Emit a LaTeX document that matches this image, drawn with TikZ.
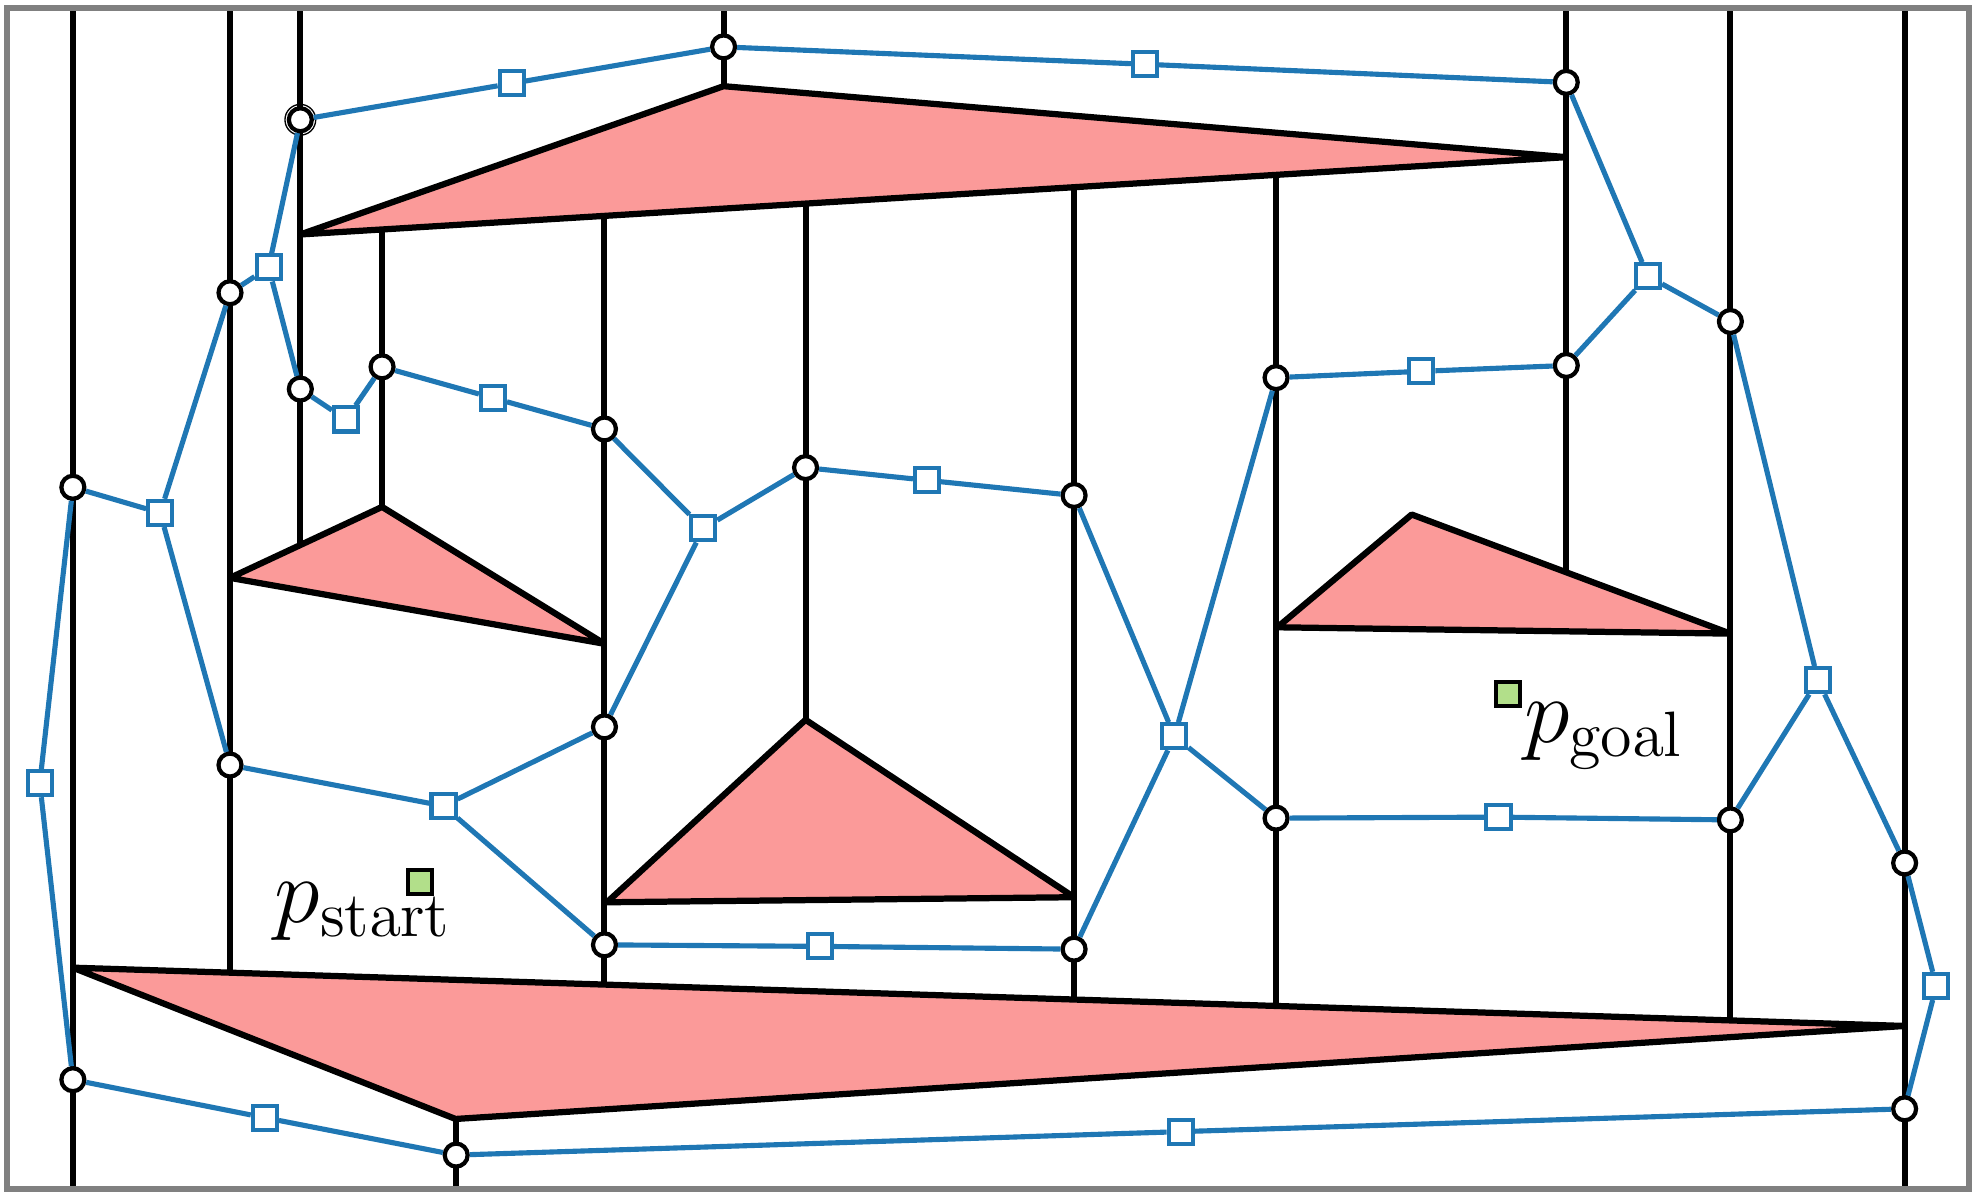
\documentclass[tikz,border=0pt]{standalone}
\usepackage{tikz}
\definecolor{cblue}{HTML}{1F77B4}
\definecolor{obstpink}{HTML}{FB9A99}
\definecolor{cgreen}{HTML}{B2DF8A}
\definecolor{framegray}{HTML}{808080}
\tikzset{
  wall/.style={draw=black, line width=1.35pt},
  obst/.style={fill=obstpink, draw=black, line width=1.4pt, line join=bevel},
  rmedge/.style={draw=cblue, line width=1.15pt},
  vtx/.style={circle, draw=black, fill=white, line width=0.95pt, minimum size=5.15pt, inner sep=0pt},
  midpt/.style={rectangle, draw=cblue, fill=white, line width=0.9pt, minimum size=5.4pt, inner sep=0pt},
  endpt/.style={rectangle, draw=black, fill=cgreen, line width=0.9pt, minimum size=5.4pt, inner sep=0pt},
  lbl/.style={anchor=base west, inner sep=0pt, font=\fontsize{22}{26}\selectfont}
}
\begin{document}
\begin{tikzpicture}[x=0.01cm,y=-0.01cm]
\useasboundingbox (0,0) rectangle (1568,941);
% walls
\draw[wall] (57.5,6) -- (57.5,938);
\draw[wall] (181.5,6) -- (181.5,767.5);
\draw[wall] (237,6) -- (237,430);
\draw[wall] (301.5,181.1) -- (301.5,400);
\draw[wall] (477,170.3) -- (477,777);
\draw[wall] (635.7,160.6) -- (635.7,568);
\draw[wall] (847.6,147.7) -- (847.6,788.7);
\draw[wall] (1007,138) -- (1007,793.8);
\draw[wall] (1236,6) -- (1236,451.6);
\draw[wall] (1365.5,6) -- (1365.5,805.2);
\draw[wall] (1503,6) -- (1503,938);
\draw[wall] (571,6) -- (571,68);
\draw[wall] (360,883) -- (360,938);
% obstacles
\draw[obst] (237,185) -- (571,68) -- (1236,124) -- cycle;
\draw[obst] (181.5,456) -- (301.5,400) -- (477,508) -- cycle;
\draw[obst] (635.7,568) -- (847.6,708) -- (479,712) -- cycle;
\draw[obst] (1114,406) -- (1365.5,500) -- (1008,495) -- cycle;
\draw[obst] (57.5,763.6) -- (1503,809.6) -- (359.5,883) -- cycle;
% frame
\draw[framegray, line width=1.35pt] (5.5,6) rectangle (1554,938);
% vertices
\node[vtx] (c1) at (571,37) {};
\node[vtx] (c2) at (237,94.5) {};
\draw[black, line width=0.3pt] (c2.center) circle (3.45pt);
\node[vtx] (c3) at (1236,65) {};
\node[vtx] (c4) at (181.5,231) {};
\node[vtx] (c5) at (237,307) {};
\node[vtx] (c6) at (301.5,289.5) {};
\node[vtx] (c7) at (477,338.5) {};
\node[vtx] (c8) at (635.7,369) {};
\node[vtx] (c9) at (847.6,391) {};
\node[vtx] (c10) at (1007,298) {};
\node[vtx] (c11) at (1236,288.4) {};
\node[vtx] (c12) at (1365.5,253.7) {};
\node[vtx] (c13) at (57.5,384.5) {};
\node[vtx] (c14) at (181.5,603.7) {};
\node[vtx] (c15) at (477,573.6) {};
\node[vtx] (c16) at (1007,645.6) {};
\node[vtx] (c17) at (1365.5,647) {};
\node[vtx] (c18) at (477,745.6) {};
\node[vtx] (c19) at (847.6,749) {};
\node[vtx] (c20) at (1503,681) {};
\node[vtx] (c21) at (57.5,852) {};
\node[vtx] (c22) at (360,911.5) {};
\node[vtx] (c23) at (1503,875) {};
% cell midpoints
\node[midpt] (s1) at (403.8,65.8) {};
\node[midpt] (s2) at (903.6,50.7) {};
\node[midpt] (s3) at (212,211) {};
\node[midpt] (s4) at (273,331) {};
\node[midpt] (s5) at (389,314) {};
\node[midpt] (s6) at (555,417) {};
\node[midpt] (s7) at (731.5,379) {};
\node[midpt] (s8) at (1121.6,293) {};
\node[midpt] (s9) at (1300.5,218) {};
\node[midpt] (s10) at (126.4,404.7) {};
\node[midpt] (s11) at (31.4,618) {};
\node[midpt] (s12) at (350,636) {};
\node[midpt] (s13) at (926.8,581) {};
\node[midpt] (s14) at (1182.5,644.8) {};
\node[midpt] (s15) at (1434.6,536.8) {};
\node[midpt] (s16) at (647,746.8) {};
\node[midpt] (s17) at (1528,778) {};
\node[midpt] (s18) at (209,882) {};
\node[midpt] (s19) at (931.7,893) {};
% roadmap edges
\draw[rmedge] (c2) -- (s1);
\draw[rmedge] (s1) -- (c1);
\draw[rmedge] (c1) -- (s2);
\draw[rmedge] (s2) -- (c3);
\draw[rmedge] (c2) -- (s3);
\draw[rmedge] (s3) -- (c4);
\draw[rmedge] (s3) -- (c5);
\draw[rmedge] (c5) -- (s4);
\draw[rmedge] (s4) -- (c6);
\draw[rmedge] (c6) -- (s5);
\draw[rmedge] (s5) -- (c7);
\draw[rmedge] (c7) -- (s6);
\draw[rmedge] (s6) -- (c8);
\draw[rmedge] (s6) -- (c15);
\draw[rmedge] (c8) -- (s7);
\draw[rmedge] (s7) -- (c9);
\draw[rmedge] (c10) -- (s8);
\draw[rmedge] (s8) -- (c11);
\draw[rmedge] (c3) -- (s9);
\draw[rmedge] (s9) -- (c11);
\draw[rmedge] (s9) -- (c12);
\draw[rmedge] (c13) -- (s10);
\draw[rmedge] (s10) -- (c4);
\draw[rmedge] (s10) -- (c14);
\draw[rmedge] (c13) -- (s11);
\draw[rmedge] (s11) -- (c21);
\draw[rmedge] (c14) -- (s12);
\draw[rmedge] (s12) -- (c15);
\draw[rmedge] (s12) -- (c18);
\draw[rmedge] (c9) -- (s13);
\draw[rmedge] (c10) -- (s13);
\draw[rmedge] (s13) -- (c19);
\draw[rmedge] (s13) -- (c16);
\draw[rmedge] (c16) -- (s14);
\draw[rmedge] (s14) -- (c17);
\draw[rmedge] (c12) -- (s15);
\draw[rmedge] (s15) -- (c17);
\draw[rmedge] (s15) -- (c20);
\draw[rmedge] (c18) -- (s16);
\draw[rmedge] (s16) -- (c19);
\draw[rmedge] (c20) -- (s17);
\draw[rmedge] (s17) -- (c23);
\draw[rmedge] (c21) -- (s18);
\draw[rmedge] (s18) -- (c22);
\draw[rmedge] (c22) -- (s19);
\draw[rmedge] (s19) -- (c23);
% start and goal
\node[endpt] (gs) at (331.5,696) {};
\node[endpt] (gg) at (1190,547.6) {};
\node[lbl] (tstart) at (216,728) {$p_{\mathrm{start}}$};
\node[lbl] (tgoal) at (1202,586) {$p_{\mathrm{goal}}$};
\end{tikzpicture}
\end{document}
